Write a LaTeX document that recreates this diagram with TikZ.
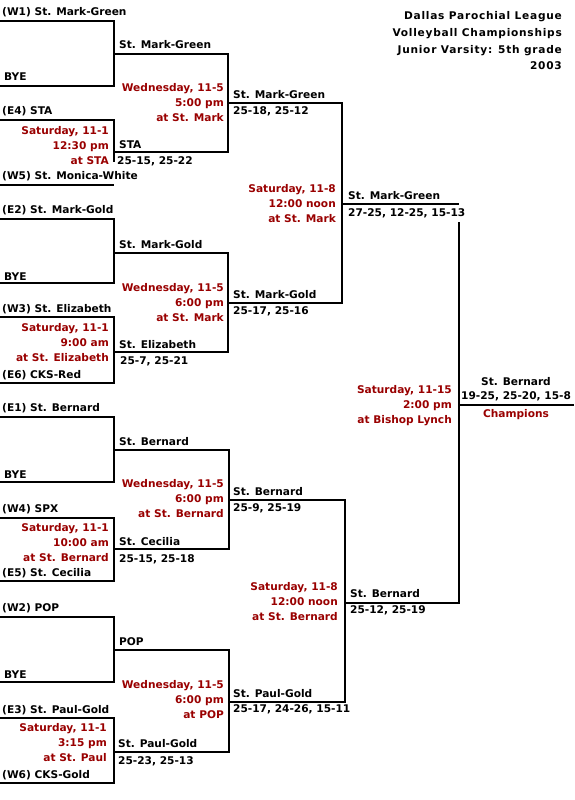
\documentclass[tikz,border=0pt]{standalone}
\usepackage{fontspec}
\newfontfamily\vfont{DejaVu Sans}
\definecolor{dred}{HTML}{990000}
\newcommand\bfnt{\vfont\bfseries\fontsize{10.6}{12}\selectfont}
\tikzset{
  ln/.style={line width=2pt, line join=miter},
  team/.style={anchor=base west, inner sep=0pt, font=\bfnt},
  redr/.style={anchor=base east, inner sep=0pt, text=dred, font=\bfnt},
  ctr/.style={anchor=base, inner sep=0pt, font=\bfnt},
  ttl/.style={anchor=base east, inner sep=0pt, font=\bfnt\addfontfeature{LetterSpace=7}},
}
\newcommand\rblk[6]{%
  \node[redr] (#1a) at (#2,#3) {#4};
  \node[redr] (#1b) at (#2,#3+15) {#5};
  \node[redr] (#1c) at (#2,#3+30) {#6};}
\begin{document}
\begin{tikzpicture}[x=1pt,y=-1pt]
\useasboundingbox (0,0) rectangle (574,800);
% ---------- coordinates ----------
% round 1 (x 0..114)
\coordinate (A1) at (0,21);  \coordinate (A2) at (0,86);
\coordinate (B1) at (0,120); \coordinate (B2) at (0,185); \coordinate (Bv) at (114,162);
\coordinate (C1) at (0,219); \coordinate (C2) at (0,283);
\coordinate (D1) at (0,317); \coordinate (D2) at (0,383);
\coordinate (E1) at (0,417); \coordinate (E2) at (0,482);
\coordinate (F1) at (0,518); \coordinate (F2) at (0,581);
\coordinate (G1) at (0,617); \coordinate (G2) at (0,682);
\coordinate (H1) at (0,718); \coordinate (H2) at (0,783);
% round 2 (x 114..228)
\coordinate (AB1) at (114,54);  \coordinate (AB2) at (114,152);
\coordinate (CD1) at (114,253); \coordinate (CD2) at (114,352);
\coordinate (EF1) at (114,450); \coordinate (EF2) at (114,549);
\coordinate (GH1) at (114,650); \coordinate (GH2) at (114,752);
% semis
\coordinate (S11) at (228,103); \coordinate (S12) at (228,303);
\coordinate (S21) at (229,500); \coordinate (S22) at (229,702);
% final
\coordinate (F11) at (342,204); \coordinate (F1e) at (459,204);
\coordinate (F21) at (345,603); \coordinate (F2e) at (459,603);
\coordinate (Ftop) at (459,222);
\coordinate (CH1) at (459,405); \coordinate (CH2) at (574,405);
% ---------- lines ----------
\draw[ln] (A1) -- (114,21) -- (114,86) -- (A2);
\draw[ln] (B1) -- (114,120) -- (Bv);
\draw[ln] (B2) -- (114,185);
\draw[ln] (C1) -- (114,219) -- (114,283) -- (C2);
\draw[ln] (D1) -- (114,317) -- (114,383) -- (D2);
\draw[ln] (E1) -- (114,417) -- (114,482) -- (E2);
\draw[ln] (F1) -- (114,518) -- (114,581) -- (F2);
\draw[ln] (G1) -- (114,617) -- (114,682) -- (G2);
\draw[ln] (H1) -- (114,718) -- (114,783) -- (H2);
\draw[ln] (AB1) -- (228,54) -- (228,152) -- (AB2);
\draw[ln] (CD1) -- (228,253) -- (228,352) -- (CD2);
\draw[ln] (EF1) -- (229,450) -- (229,549) -- (EF2);
\draw[ln] (GH1) -- (229,650) -- (229,752) -- (GH2);
\draw[ln] (S11) -- (342,103) -- (342,303) -- (S12);
\draw[ln] (S21) -- (345,500) -- (345,702) -- (S22);
\draw[ln] (F11) -- (F1e);
\draw[ln] (F21) -- (F2e) -- (Ftop);
\draw[ln] (CH1) -- (CH2);
% ---------- title ----------
\node[ttl] (t1) at (562,20) {Dallas Parochial League};
\node[ttl] (t2) at (562,36.5) {Volleyball Championships};
\node[ttl] (t3) at (562,53) {Junior Varsity: 5th grade};
\node[ttl] (t4) at (562,69.5) {2003};
% ---------- round 1 ----------
\node[team] (nW1) at (2,15.5) {(W1) St. Mark-Green};
\node[team] (nBy1) at (4,81) {BYE};
\node[team] (nE4) at (2,114) {(E4) STA};
\rblk{rB}{109}{134}{Saturday, 11-1}{12:30 pm}{at STA}
\node[team] (nW5) at (2,179) {(W5) St. Monica-White};
\node[team] (nE2) at (2,213) {(E2) St. Mark-Gold};
\node[team] (nBy2) at (4,280) {BYE};
\node[team] (nW3) at (2,312) {(W3) St. Elizabeth};
\rblk{rD}{109}{331}{Saturday, 11-1}{9:00 am}{at St. Elizabeth}
\node[team] (nE6) at (2,378) {(E6) CKS-Red};
\node[team] (nE1) at (2,411.5) {(E1) St. Bernard};
\node[team] (nBy3) at (4,478) {BYE};
\node[team] (nW4) at (2,512) {(W4) SPX};
\rblk{rF}{109}{531}{Saturday, 11-1}{10:00 am}{at St. Bernard}
\node[team] (nE5) at (2,576) {(E5) St. Cecilia};
\node[team] (nW2) at (2,611.5) {(W2) POP};
\node[team] (nBy4) at (4,678) {BYE};
\node[team] (nE3) at (2,713) {(E3) St. Paul-Gold};
\rblk{rH}{107}{731}{Saturday, 11-1}{3:15 pm}{at St. Paul}
\node[team] (nW6) at (2,778) {(W6) CKS-Gold};
% ---------- round 2 ----------
\node[team] (mA) at (119,48.5) {St. Mark-Green};
\rblk{rAB}{224}{91}{Wednesday, 11-5}{5:00 pm}{at St. Mark}
\node[team] (mB) at (119,148) {STA};
\node[team] (sB) at (117,164) {25-15, 25-22};
\node[team] (mC) at (119,248) {St. Mark-Gold};
\rblk{rCD}{224}{291}{Wednesday, 11-5}{6:00 pm}{at St. Mark}
\node[team] (mD) at (119,348) {St. Elizabeth};
\node[team] (sD) at (120,364) {25-7, 25-21};
\node[team] (mE) at (119,445.5) {St. Bernard};
\rblk{rEF}{224}{487}{Wednesday, 11-5}{6:00 pm}{at St. Bernard}
\node[team] (mF) at (119,545) {St. Cecilia};
\node[team] (sF) at (119,562) {25-15, 25-18};
\node[team] (mG) at (119,645.5) {POP};
\rblk{rGH}{224}{688}{Wednesday, 11-5}{6:00 pm}{at POP}
\node[team] (mH) at (118,747.5) {St. Paul-Gold};
\node[team] (sH) at (118,764) {25-23, 25-13};
% ---------- round 3 ----------
\node[team] (qA) at (233,98) {St. Mark-Green};
\node[team] (sqA) at (233,114) {25-18, 25-12};
\node[team] (qB) at (233,298) {St. Mark-Gold};
\node[team] (sqB) at (233,314) {25-17, 25-16};
\rblk{rS1}{336}{192}{Saturday, 11-8}{12:00 noon}{at St. Mark}
\node[team] (qC) at (233,495.5) {St. Bernard};
\node[team] (sqC) at (233,511) {25-9, 25-19};
\node[team] (qD) at (233,697.5) {St. Paul-Gold};
\node[team] (sqD) at (233,712.5) {25-17, 24-26, 15-11};
\rblk{rS2}{338}{590}{Saturday, 11-8}{12:00 noon}{at St. Bernard}
% ---------- semis winners ----------
\node[team] (wS1) at (348,199) {St. Mark-Green};
\node[team] (swS1) at (348,216) {27-25, 12-25, 15-13};
\node[team] (wS2) at (350,597.5) {St. Bernard};
\node[team] (swS2) at (350,613) {25-12, 25-19};
% ---------- final ----------
\rblk{rFin}{452}{393}{Saturday, 11-15}{2:00 pm}{at Bishop Lynch}
\node[ctr] (champ) at (516,385) {St. Bernard};
\node[ctr] (chs) at (516,399) {19-25, 25-20, 15-8};
\node[ctr, text=dred] (chl) at (516,417) {Champions};
\end{tikzpicture}
\end{document}
